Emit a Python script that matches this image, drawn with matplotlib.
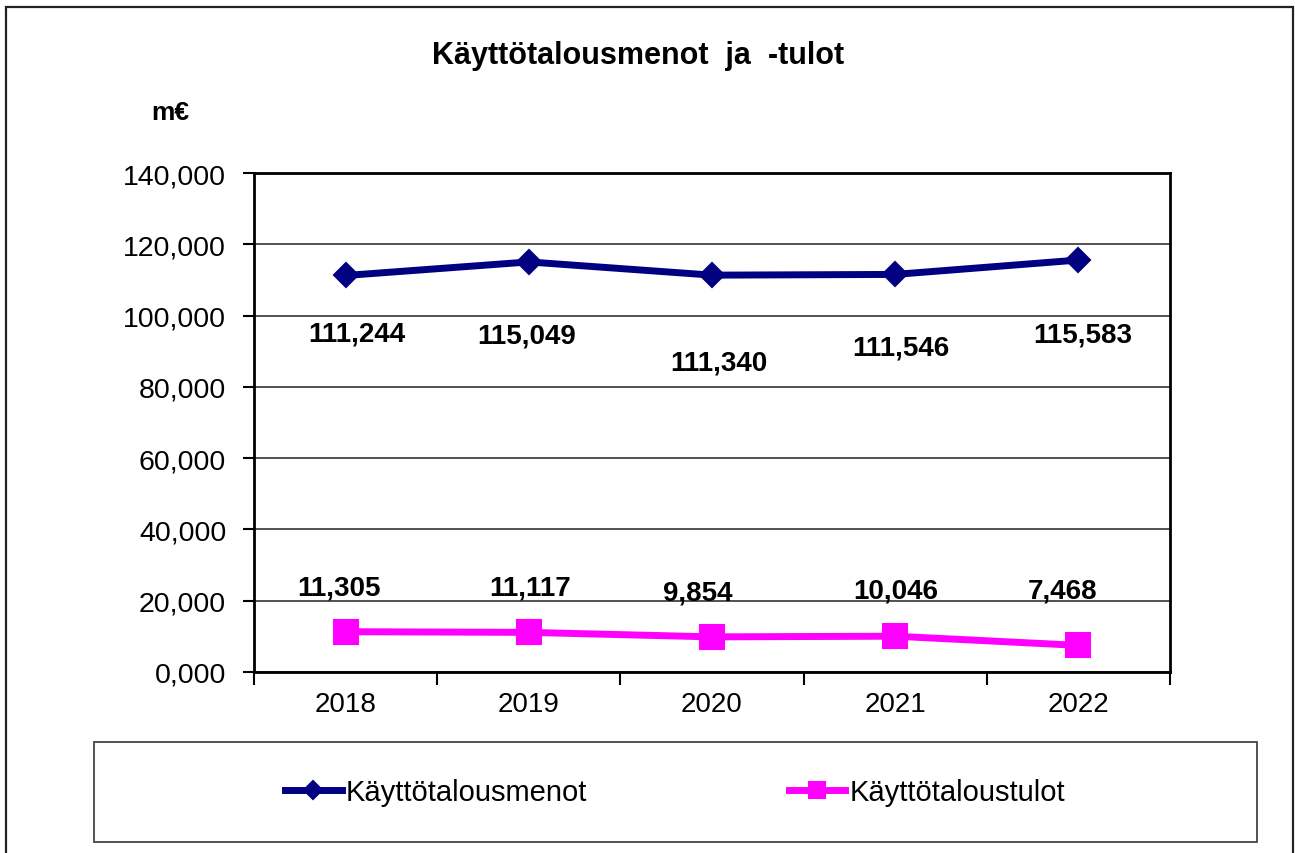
import matplotlib
matplotlib.use("Agg")
import matplotlib.pyplot as plt
from matplotlib.ticker import FixedLocator, FuncFormatter
from matplotlib.patches import Rectangle

plt.rcParams['font.family'] = ['Liberation Sans', 'DejaVu Sans']

# ---- data ----
years = ["2018", "2019", "2020", "2021", "2022"]
menot = [111.244, 115.049, 111.340, 111.546, 115.583]   # Käyttötalousmenot
tulot = [11.305, 11.117, 9.854, 10.046, 7.468]          # Käyttötaloustulot
y_ticks = [0, 20, 40, 60, 80, 100, 120, 140]
title = "Käyttötalousmenot  ja  -tulot"
unit = "m€"
series_names = ["Käyttötalousmenot", "Käyttötaloustulot"]

# ---- layout (label offsets in pixels: dx, dy to text baseline) ----
menot_lab_off = [(11, -65), (-2, -81), (7, -94), (6, -80), (4, -81)]
tulot_lab_off = [(-7, 37), (1, 38), (-14, 37), (1, 39), (-16, 48)]

W, H = 1295, 854
fig = plt.figure(figsize=(W / 100, H / 100), dpi=100)

def fx(px):
    return px / W

def fy(py):
    return 1 - py / H

# outer frame
fig.patches.append(Rectangle((fx(6), fy(900)), fx(1293) - fx(6), fy(8) - fy(900),
                             transform=fig.transFigure, fill=False,
                             edgecolor="#222222", linewidth=1.6))

ax = fig.add_axes([fx(254), fy(673), fx(1170) - fx(254), fy(174) - fy(673)])
x = list(range(len(years)))

ax.plot(x, menot, color="#000080", linewidth=5, marker="D", markersize=12.5,
        markeredgewidth=1.5, markeredgecolor="#000080",
        label=series_names[0], zorder=3)
ax.plot(x, tulot, color="#FF00FF", linewidth=5, marker="s", markersize=17,
        markeredgewidth=1.5, markeredgecolor="#FF00FF", label=series_names[1], zorder=3)

def fmt(v):
    return f"{v:.3f}".replace(".", ",")

for i, v in enumerate(menot):
    dx, dy = menot_lab_off[i]
    ax.annotate(fmt(v), (x[i], v), xytext=(dx, dy), textcoords="offset pixels",
                ha="center", va="baseline", fontsize=20, fontweight="bold", color="black")
for i, v in enumerate(tulot):
    dx, dy = tulot_lab_off[i]
    ax.annotate(fmt(v), (x[i], v), xytext=(dx, dy), textcoords="offset pixels",
                ha="center", va="baseline", fontsize=20, fontweight="bold", color="black")

ax.set_xlim(-0.5, len(years) - 0.5)
ax.set_ylim(y_ticks[0], y_ticks[-1])
ax.yaxis.set_major_locator(FixedLocator(y_ticks))
ax.yaxis.set_major_formatter(FuncFormatter(lambda v, p: fmt(v)))
ax.set_xticks(x)
ax.set_xticklabels(years)
ax.set_xticks([i - 0.5 for i in range(len(years) + 1)], minor=True)
ax.tick_params(axis="x", which="major", length=0, pad=14, labelsize=20)
ax.tick_params(axis="x", which="minor", length=9, width=1.5, direction="out")
ax.tick_params(axis="y", which="major", length=8, width=1.5, pad=12, labelsize=20.5,
               direction="out")
ax.grid(axis="y", color="#333333", linewidth=1.2)
ax.set_axisbelow(True)
for s in ax.spines.values():
    s.set_linewidth(2)
    s.set_color("black")

# title and unit
fig.text(fx(638), fy(64), title, ha="center", va="baseline", fontsize=22, fontweight="bold")
fig.text(fx(170), fy(120), unit, ha="center", va="baseline", fontsize=19, fontweight="bold")

# legend box
fig.patches.append(Rectangle((fx(94), fy(843)), fx(1257) - fx(94), fy(743) - fy(843),
                             transform=fig.transFigure, fill=False,
                             edgecolor="#444444", linewidth=1.3))
handles, labels = ax.get_legend_handles_labels()
fig.legend(handles, labels, loc="center", bbox_to_anchor=(fx(675), fy(793)),
           ncol=2, frameon=False, fontsize=21, handlelength=1.95, handletextpad=0.15,
           columnspacing=6.9, markerscale=0.7)

fig.savefig("out.png", dpi=100)
